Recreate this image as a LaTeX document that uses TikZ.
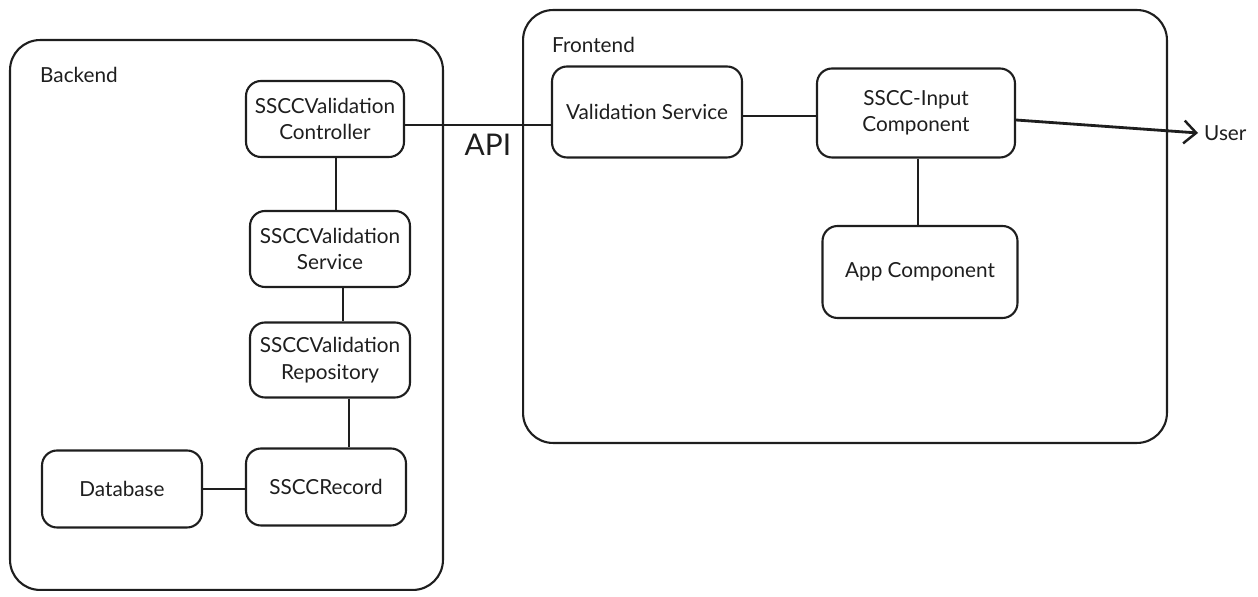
\documentclass[tikz,border=0pt]{standalone}
\usepackage{fontspec}
\setmainfont{Lato}
\usetikzlibrary{arrows.meta,calc}
\tikzset{>={Straight Barb[length=7pt,width=13pt,line width=1.4pt]}}
\definecolor{ink}{HTML}{1E1E1E}

\begin{document}
\begin{tikzpicture}[x=0.02cm,y=-0.02cm,
  every node/.style={text=ink,font=\fontsize{11.8}{15}\selectfont},
  group/.style={draw=ink,line width=1.2pt,rounded corners=0.6cm},
  box/.style={draw=ink,line width=1.2pt,rounded corners=0.3cm,align=center,inner sep=0pt},
  link/.style={draw=ink,line width=1.2pt}]
  \useasboundingbox (0,0) rectangle (1258,597);
  % containers
  \node[group,minimum width=8.66cm,minimum height=11cm] (backend) at (226.5,315) {};
  \node[group,minimum width=12.88cm,minimum height=8.66cm] (frontend) at (845,226.5) {};
  \node[anchor=west] (backlbl) at (34,75) {Backend};
  \node[anchor=west] (frontlbl) at (546,45) {Frontend};
  % backend boxes
  \node[box,minimum width=3.16cm,minimum height=1.52cm] (ctrl) at (325,119) {SSCCValidation\\Controller};
  \node[box,minimum width=3.2cm,minimum height=1.52cm] (svc) at (330,249) {SSCCValidation\\Service};
  \node[box,minimum width=3.2cm,minimum height=1.5cm] (repo) at (330,360) {SSCCValidation\\Repository};
  \node[box,minimum width=3.2cm,minimum height=1.54cm] (db) at (122,489) {Database};
  \node[box,minimum width=3.2cm,minimum height=1.54cm] (rec) at (326,487) {SSCCRecord};
  % frontend boxes
  \node[box,minimum width=3.8cm,minimum height=1.82cm] (vsvc) at (647,112) {Validation Service};
  \node[box,minimum width=3.96cm,minimum height=1.78cm] (inp) at (916,113) {SSCC-Input\\Component};
  \node[box,minimum width=3.9cm,minimum height=1.84cm] (app) at (920,272) {App Component};
  \node[anchor=west] (user) at (1198,133) {User};
  % connector ends
  \coordinate (c1) at ($(ctrl.east)+(0,6)$);
  \coordinate (c2) at ($(ctrl.south)+(11,0)$);
  \coordinate (c3) at ($(svc.south)+(13,0)$);
  \coordinate (c4) at ($(repo.south)+(19,0)$);
  \coordinate (c5) at ($(vsvc.east)+(0,4)$);
  \coordinate (c6) at ($(inp.south)+(2,0)$);
  \coordinate (c7) at ($(inp.east)+(0,7)$);
  % connectors
  \draw[link] (c1) -- (c1 -| vsvc.west)
    node[midway,below=1pt,xshift=0.2cm,font=\fontsize{17}{18}\selectfont] (api) {API};
  \draw[link] (c2) -- (c2 |- svc.north);
  \draw[link] (c3) -- (c3 |- repo.north);
  \draw[link] (c4) -- (c4 |- rec.north);
  \draw[link] (db.east) -- (db.east -| rec.west);
  \draw[link] (c5) -- (c5 -| inp.west);
  \draw[link] (c6) -- (c6 |- app.north);
  \draw[link,line width=1.6pt,->] (c7) -- (user.west);
\end{tikzpicture}
\end{document}
